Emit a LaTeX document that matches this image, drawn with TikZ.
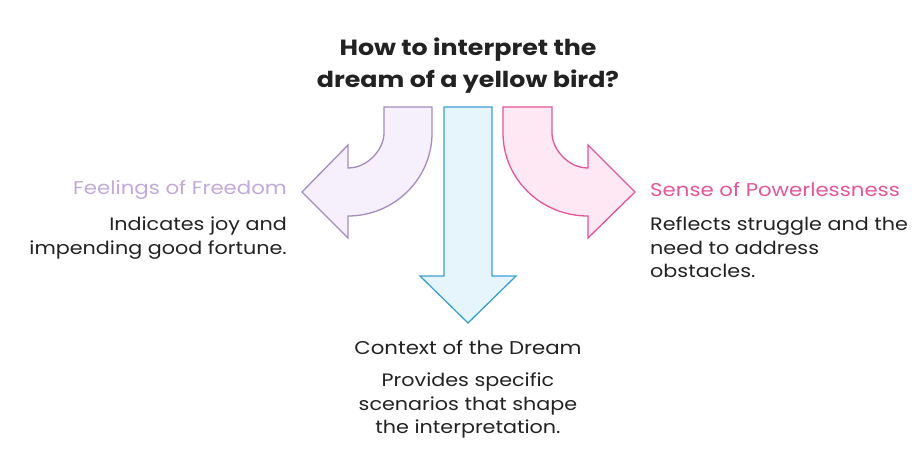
\documentclass[tikz,border=0pt]{standalone}
\usepackage{fontspec}
\setmainfont{Poppins}[FakeStretch=1.15]
\definecolor{pst}{HTML}{A58BC0}\definecolor{pfi}{HTML}{F5F0FB}
\definecolor{bst}{HTML}{3A9FD0}\definecolor{bfi}{HTML}{E6F5FC}
\definecolor{kst}{HTML}{E5559A}\definecolor{kfi}{HTML}{FDE8F3}
\definecolor{ptx}{HTML}{C2A9DB}\definecolor{dtx}{HTML}{222222}
\begin{document}
\begin{tikzpicture}[x=1pt,y=-1pt,
  body/.style={font=\fontsize{18}{23.5}\selectfont,text=dtx,inner sep=0pt},
  head/.style={font=\fontsize{18.5}{23}\selectfont,inner sep=0pt},
  arr/.style={line width=1.3pt,line join=miter}]
\useasboundingbox (0,0) rectangle (924,468);
% left arrow
\draw[arr,draw=pst,fill=pfi] (384,107) -- (432,107) -- (432,133)
  .. controls (432,179) and (394,216) .. (348,216) -- (348,238) -- (302,192) -- (348,145) -- (348,168)
  .. controls (368,168) and (384,149) .. (384,133) -- cycle;
% right arrow
\draw[arr,draw=kst,fill=kfi] (552,107) -- (503,107) -- (503,133)
  .. controls (503,179) and (541,216) .. (588,216) -- (588,238) -- (635,192) -- (588,145) -- (588,168)
  .. controls (568,168) and (552,149) .. (552,133) -- cycle;
% center arrow
\draw[arr,draw=bst,fill=bfi] (444,107) -- (492,107) -- (492,276) -- (516,276) -- (468,323) -- (420,276) -- (444,276) -- cycle;
\node[font=\fontsize{22}{32}\selectfont\bfseries,text=dtx,align=center,inner sep=0pt] (t) at (468,66) {How to interpret the\\dream of a yellow bird?};
\node[head,text=ptx,anchor=east] (fh) at (287,190) {Feelings of Freedom};
\node[body,align=right,anchor=north east] (fb) at (287,217) {Indicates joy and\\impending good fortune.};
\node[head,text=kst,anchor=west] (sh) at (650,190) {Sense of Powerlessness};
\node[body,align=left,anchor=north west] (sb) at (650,217) {Reflects struggle and the\\need to address\\obstacles.};
\node[head,text=dtx,anchor=center] (ch) at (468,348) {Context of the Dream};
\node[body,align=center,anchor=north] (cb) at (468,373) {Provides specific\\scenarios that shape\\the interpretation.};
\end{tikzpicture}
\end{document}
